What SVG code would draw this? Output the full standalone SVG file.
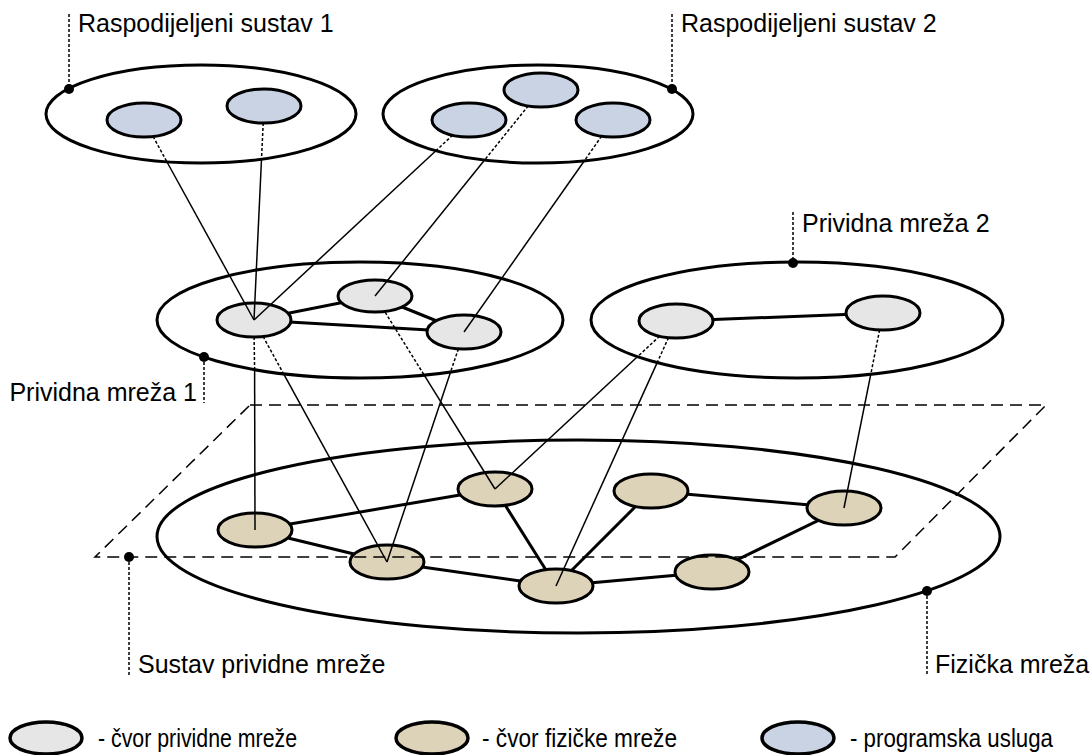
<svg xmlns="http://www.w3.org/2000/svg" width="1091" height="755" viewBox="0 0 1091 755">
<style>
.cont{fill:none;stroke:#000;stroke-width:3}
.edge{stroke:#000;stroke-width:3;fill:none}
.nv{fill:#e6e6e6;stroke:#000;stroke-width:3}
.np{fill:#ddd3b8;stroke:#000;stroke-width:3}
.ns{fill:#c9d3e3;stroke:#000;stroke-width:3}
.sol{stroke:#000;stroke-width:1.5;fill:none}
.dot{stroke:#000;stroke-width:1.5;stroke-dasharray:3 2;fill:none}
.dash{stroke:#000;stroke-width:1.5;stroke-dasharray:12 7;fill:none}
.lbl{font-family:"Liberation Sans",Arial,sans-serif;font-size:25px;fill:#000}
.leg{font-family:"Liberation Sans",Arial,sans-serif;font-size:26px;fill:#000}
</style>
<rect width="1091" height="755" fill="#fff"/>
<g id="containers">
<ellipse id="rs1" class="cont" cx="201" cy="114" rx="155" ry="49"/>
<ellipse id="rs2" class="cont" cx="538" cy="114" rx="155" ry="49"/>
<ellipse id="pn1" class="cont" cx="360" cy="320" rx="203" ry="58"/>
<ellipse id="pn2" class="cont" cx="797" cy="320" rx="206" ry="58"/>
<ellipse id="phys" class="cont" cx="578.5" cy="536.5" rx="421.5" ry="96.5"/>
</g>
<g id="links">
<line class="edge" x1="254" y1="320" x2="375" y2="296"/>
<line class="edge" x1="254" y1="320" x2="464" y2="332"/>
<line class="edge" x1="375" y1="296" x2="464" y2="332"/>
<line class="edge" x1="676" y1="321" x2="883" y2="313"/>
<line class="edge" x1="255" y1="530" x2="495" y2="489"/>
<line class="edge" x1="255" y1="530" x2="387" y2="562"/>
<line class="edge" x1="387" y1="562" x2="556" y2="586"/>
<line class="edge" x1="495" y1="489" x2="556" y2="586"/>
<line class="edge" x1="556" y1="586" x2="651" y2="491"/>
<line class="edge" x1="651" y1="491" x2="844" y2="508"/>
<line class="edge" x1="844" y1="508" x2="712" y2="572"/>
<line class="edge" x1="712" y1="572" x2="556" y2="586"/>
</g>
<g id="node-s1"><ellipse class="ns" cx="144" cy="120" rx="37" ry="17"/></g>
<g id="node-s2"><ellipse class="ns" cx="264" cy="106" rx="37" ry="17"/></g>
<g id="node-s3"><ellipse class="ns" cx="469" cy="120" rx="37" ry="17"/></g>
<g id="node-s4"><ellipse class="ns" cx="541" cy="90" rx="37" ry="17"/></g>
<g id="node-s5"><ellipse class="ns" cx="613" cy="120" rx="37" ry="17"/></g>
<g id="node-a"><ellipse class="nv" cx="254" cy="320" rx="37" ry="17"/></g>
<g id="node-b"><ellipse class="nv" cx="375" cy="296" rx="37" ry="16"/></g>
<g id="node-c"><ellipse class="nv" cx="464" cy="332" rx="37" ry="17"/></g>
<g id="node-d"><ellipse class="nv" cx="676" cy="321" rx="37" ry="17"/></g>
<g id="node-e"><ellipse class="nv" cx="883" cy="313" rx="37" ry="17"/></g>
<g id="node-p1"><ellipse class="np" cx="255" cy="530" rx="37" ry="17"/></g>
<g id="node-p2"><ellipse class="np" cx="387" cy="562" rx="37" ry="17"/></g>
<g id="node-p3"><ellipse class="np" cx="495" cy="489" rx="37" ry="17"/></g>
<g id="node-p4"><ellipse class="np" cx="556" cy="586" rx="37" ry="17"/></g>
<g id="node-p5"><ellipse class="np" cx="651" cy="491" rx="37" ry="17"/></g>
<g id="node-p6"><ellipse class="np" cx="844" cy="508" rx="37" ry="17"/></g>
<g id="node-p7"><ellipse class="np" cx="712" cy="572" rx="37" ry="17"/></g>
<g id="plane">
<polygon class="dash" points="250,405 1046,405 895,557 95,557"/>
</g>
<g id="connectors">
<line class="dot" x1="153.1" y1="136.5" x2="167" y2="162"/>
<line class="sol" x1="167" y1="162" x2="254" y2="320"/>
<line class="dot" x1="263.2" y1="123" x2="261.5" y2="159"/>
<line class="sol" x1="261.5" y1="159" x2="254" y2="320"/>
<line class="dot" x1="452.6" y1="135.2" x2="435.9" y2="150.8"/>
<line class="sol" x1="435.9" y1="150.8" x2="254" y2="320"/>
<line class="dot" x1="528.2" y1="105.9" x2="484.6" y2="160"/>
<line class="sol" x1="484.6" y1="160" x2="375" y2="296"/>
<line class="dot" x1="601.6" y1="136.2" x2="584.4" y2="160.7"/>
<line class="sol" x1="584.4" y1="160.7" x2="464" y2="332"/>
<line class="dot" x1="254.1" y1="337" x2="254.6" y2="369.6"/>
<line class="sol" x1="254.6" y1="369.6" x2="255" y2="530"/>
<line class="dot" x1="263.1" y1="336.5" x2="283.5" y2="373.7"/>
<line class="sol" x1="283.5" y1="373.7" x2="387" y2="562"/>
<line class="dot" x1="385.2" y1="312.3" x2="424.2" y2="375.1"/>
<line class="sol" x1="424.2" y1="375.1" x2="495" y2="489"/>
<line class="dot" x1="458.4" y1="348.8" x2="450.6" y2="371.9"/>
<line class="sol" x1="450.6" y1="371.9" x2="387" y2="562"/>
<line class="dot" x1="659.6" y1="336.2" x2="637.4" y2="356.8"/>
<line class="sol" x1="637.4" y1="356.8" x2="495" y2="489"/>
<line class="dot" x1="668.5" y1="337.6" x2="657.2" y2="362.6"/>
<line class="sol" x1="657.2" y1="362.6" x2="556" y2="586"/>
<line class="dot" x1="879.6" y1="329.9" x2="870.8" y2="374.2"/>
<line class="sol" x1="870.8" y1="374.2" x2="844" y2="508"/>
</g>
<g id="labels">
<g id="label-rs1">
<line class="dot" x1="69" y1="14" x2="69" y2="89"/>
<circle cx="69" cy="89" r="5"/>
<text class="lbl" x="78" y="32">Raspodijeljeni sustav 1</text>
</g>
<g id="label-rs2">
<line class="dot" x1="672" y1="14" x2="672" y2="89"/>
<circle cx="672" cy="89" r="5"/>
<text class="lbl" x="681" y="32">Raspodijeljeni sustav 2</text>
</g>
<g id="label-pn2">
<line class="dot" x1="793" y1="212" x2="793" y2="263"/>
<circle cx="793" cy="263" r="5"/>
<text class="lbl" x="802" y="232">Prividna mreža 2</text>
</g>
<g id="label-pn1">
<line class="dot" x1="204" y1="357" x2="204" y2="403"/>
<circle cx="204" cy="357" r="5"/>
<text class="lbl" x="197" y="401" text-anchor="end">Prividna mreža 1</text>
</g>
<g id="label-svm">
<line class="dot" x1="129" y1="557" x2="129" y2="675"/>
<circle cx="129" cy="557" r="5"/>
<text class="lbl" x="138" y="673">Sustav prividne mreže</text>
</g>
<g id="label-phys">
<line class="dot" x1="927" y1="591" x2="927" y2="676"/>
<circle cx="927" cy="591" r="5"/>
<text class="lbl" x="935" y="673">Fizička mreža</text>
</g>
</g>
<g id="legend">
<g id="legend-v"><ellipse class="nv" cx="46" cy="738" rx="36" ry="16" style="stroke-width:3.5"/>
<text class="leg" x="98" y="747" textLength="199" lengthAdjust="spacingAndGlyphs">- čvor prividne mreže</text></g>
<g id="legend-p"><ellipse class="np" cx="432" cy="738" rx="36" ry="16" style="stroke-width:3.5"/>
<text class="leg" x="482" y="747" textLength="195" lengthAdjust="spacingAndGlyphs">- čvor fizičke mreže</text></g>
<g id="legend-s"><ellipse class="ns" cx="798" cy="738" rx="36" ry="16" style="stroke-width:3.5"/>
<text class="leg" x="850" y="747" textLength="203" lengthAdjust="spacingAndGlyphs">- programska usluga</text></g>
</g>
</svg>
